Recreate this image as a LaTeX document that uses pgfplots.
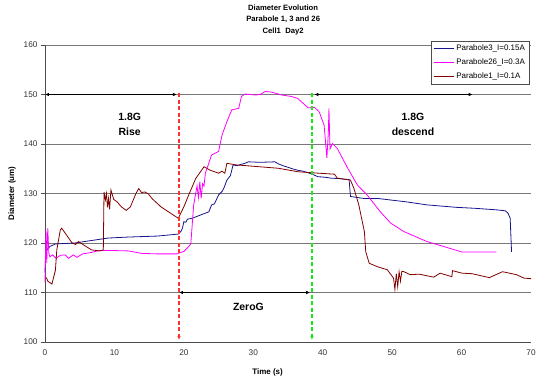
\documentclass[border=0pt]{standalone}
\usepackage{pgfplots}
\pgfplotsset{compat=1.18}
\usepackage{fontspec}
\setmainfont{Liberation Sans}
\usetikzlibrary{arrows.meta}
\definecolor{pblue}{RGB}{20,20,140}
\definecolor{pmag}{RGB}{255,0,255}
\definecolor{pbrown}{RGB}{128,0,0}
\definecolor{gridc}{RGB}{120,120,120}
\definecolor{dred}{RGB}{255,50,50}
\definecolor{dgreen}{RGB}{30,230,30}
\begin{document}
\begin{tikzpicture}
\begin{axis}[
  name=ax,
  scale only axis,
  width=486bp, height=297bp,
  xmin=0, xmax=70, ymin=100, ymax=160,
  xtick={0,10,...,70}, ytick={100,110,...,160},
  axis lines=left,
  axis line style={-, draw=black!70},
  ymajorgrids,
  grid style={gridc, line width=0.6pt},
  tick align=outside,
  major tick length=4bp,
  tick style={black!70},
  x tick style={draw=none},
  ticklabel style={font=\fontsize{8.3}{10}\selectfont, text=black!80},
  /pgf/number format/assume math mode=true,
  clip=false,
  legend style={at={(0.996,1.0135)}, anchor=north east, draw=black!70, fill=white,
    font=\fontsize{8}{10}\selectfont, row sep=2.5bp, inner xsep=2bp, inner ysep=2bp},
  legend cell align=left,
  legend image code/.code={\draw[#1] (0bp,0bp) -- (20bp,0bp);},
]
\addplot[pblue, line width=0.8pt] coordinates {
(0,114) (0.1,118.3) (0.7,119.3) (1.5,119.8) (4.3,120) (6.7,120.5) (9.1,121) (12,121.2) (16.2,121.4) (19.2,121.8) (19.6,122.4) (19.8,123) (20.0,124.3) (20.3,124.2) (20.5,124.8) (21.2,125) (23.6,126.3) (24,127.7) (24.4,127.9) (25,129.7) (25.5,130.4) (25.8,131.2) (26.2,132.7) (26.7,133.6) (27.1,135.8) (27.6,135.6) (28.3,135.9) (28.8,136.1) (29.3,136.4) (31,136.3) (33.1,136.4) (33.6,136.0) (34.3,135.6) (35,135.3) (35.6,135.0) (36.4,134.7) (37.2,134.5) (38.3,134.0) (39.3,133.4) (40.2,133.3) (41.2,133.1) (42.5,133.0) (43.8,132.8) (44,129.4) (45.9,129.0) (47.9,129.0) (52.1,128.3) (55,127.7) (59.3,127.2) (62,127.0) (65,126.7) (66.3,126.5) (66.7,126.0) (67.0,125.0) (67.1,121.6) (67.2,118.2)
};
\addlegendentry{Parabole3\_I=0.15A}
\addplot[pmag, line width=0.8pt] coordinates {
(0,112) (0.15,122.5) (0.25,116) (0.4,123) (0.55,118) (0.7,117.2) (1.1,117.6) (1.6,116.9) (2.2,117.5) (2.9,117.6) (3.4,116.9) (4.1,117.6) (4.6,117.1) (5.4,117.8) (6.3,118) (6.7,118.1) (7.9,118.5) (9.1,118.5) (12,118.4) (13.9,117.9) (16.2,117.8) (19,117.8) (20,118.3) (20.7,119.3) (21.0,119.8) (21.2,123.6) (21.4,127.5) (21.7,130.0) (21.9,131.5) (22.1,129.2) (22.3,132.4) (22.5,129.0) (22.7,132.0) (22.9,131.5) (23.1,134.1) (24,137.8) (25,138.5) (25.5,141.8) (26.2,144.5) (26.9,146.9) (27.9,147.2) (28.3,149.6) (28.8,150.1) (30.3,149.9) (31.0,150.0) (31.7,150.6) (32.6,150.5) (34.1,149.9) (35.5,149.6) (36.4,149.2) (37.9,147.3) (38.8,147.4) (39.5,146.5) (40.2,143.8) (40.4,140.5) (40.6,137.2) (40.8,142) (40.9,147.2) (41.05,139) (41.4,140.1) (42.1,139.1) (43.6,135.1) (45,131.7) (46.4,129.7) (48.3,126.3) (49.8,124) (51.7,122.3) (55,120.3) (57.4,119.3) (60,118.2) (65,118.2)
};
\addlegendentry{Parabole26\_I=0.3A}
\addplot[pbrown, line width=0.8pt] coordinates {
(0.2,113) (0.4,112.3) (1.0,111.7) (1.5,114.5) (1.7,118.6) (2.2,122.6) (2.4,123) (3.1,121.6) (3.9,120) (4.4,119.7) (4.8,120.3) (5.8,119.4) (6.7,118.6) (7.9,118.4) (8.4,118.6) (8.5,130.3) (8.7,128.7) (8.85,130) (9.0,127.2) (9.15,129) (9.3,126.8) (9.5,130.7) (9.9,128.8) (10.4,128.3) (11,127.3) (11.7,126.6) (12.3,127.3) (13.1,130) (13.5,131) (13.9,130.2) (14.4,130.3) (14.9,129.9) (15.4,129) (16.7,127.3) (18.1,126) (19.2,125) (20,127.3) (20.7,129.7) (21.7,133) (22.9,135.4) (23.8,134.7) (25,134.1) (25.5,134.5) (25.9,134.1) (26.2,136.1) (27.4,135.8) (30,135.5) (33.6,135.1) (36.4,134.4) (38.3,134.2) (41.7,133.9) (42.1,133.1) (44,132.7) (44.5,131) (45.2,127.7) (46,122.3) (46.2,118.2) (46.7,115.9) (47.9,115.2) (49.3,114.6) (50.2,112.9) (50.4,110.6) (50.6,113.8) (50.8,111.2) (51.0,114.2) (51.2,112.3) (51.4,114.3) (51.7,114.2) (52.6,113.6) (53.9,113.7) (56,113.1) (56.9,113.9) (58.6,113.2) (58.7,114.4) (60.1,113.9) (61.5,113.8) (64,113) (65.9,114.2) (67.9,113.6) (69,112.9) (70,112.8)
};
\addlegendentry{Parabole1\_I=0.1A}
% annotations
\draw[black, line width=0.8pt, {Latex[length=4bp,width=3.5bp]}-{Latex[length=4bp,width=3.5bp]}] (axis cs:0,150) -- (axis cs:19,150);
\draw[black, line width=0.8pt, {Latex[length=4bp,width=3.5bp]}-{Latex[length=4bp,width=3.5bp]}] (axis cs:38.8,150) -- (axis cs:61.6,150);
\draw[black, line width=0.8pt, {Latex[length=4bp,width=3.5bp]}-{Latex[length=4bp,width=3.5bp]}] (axis cs:19.3,110) -- (axis cs:38.2,110);
\draw[dred, line width=1.2pt, dash pattern=on 4bp off 2.5bp, -{Latex[length=4bp,width=3.5bp]}] (axis cs:19.3,150.3) -- (axis cs:19.3,100.4);
\draw[dgreen, line width=1.5pt, dash pattern=on 4bp off 2.5bp, -{Latex[length=4bp,width=3.5bp]}] (axis cs:38.45,150.3) -- (axis cs:38.45,100.4);
\node[font=\bfseries\fontsize{10.5}{15}\selectfont, align=center] at (axis cs:12.2,144) {1.8G\\Rise};
\node[font=\bfseries\fontsize{10.5}{15}\selectfont, align=center] at (axis cs:53,144) {1.8G\\descend};
\node[font=\bfseries\fontsize{10.5}{12}\selectfont] at (axis cs:29.3,107.1) {ZeroG};
% title and labels
\node[font=\bfseries\fontsize{7.7}{12}\selectfont, align=center] at ([yshift=25bp]rel axis cs:0.49,1) {Diameter Evolution\\Parabole 1, 3 and 26\\Cell1\ \ Day2};
\node[font=\bfseries\fontsize{8}{10}\selectfont, rotate=90] at ([xshift=-33bp]rel axis cs:0,0.5) {Diameter (um)};
\node[font=\bfseries\fontsize{8}{10}\selectfont] at ([yshift=-30bp]rel axis cs:0.458,0) {Time (s)};
\end{axis}
\pgfresetboundingbox
\path[use as bounding box] ([shift={(-45bp,-38bp)}]ax.south west) rectangle ([shift={(6bp,45bp)}]ax.north east);
\end{tikzpicture}
\end{document}
